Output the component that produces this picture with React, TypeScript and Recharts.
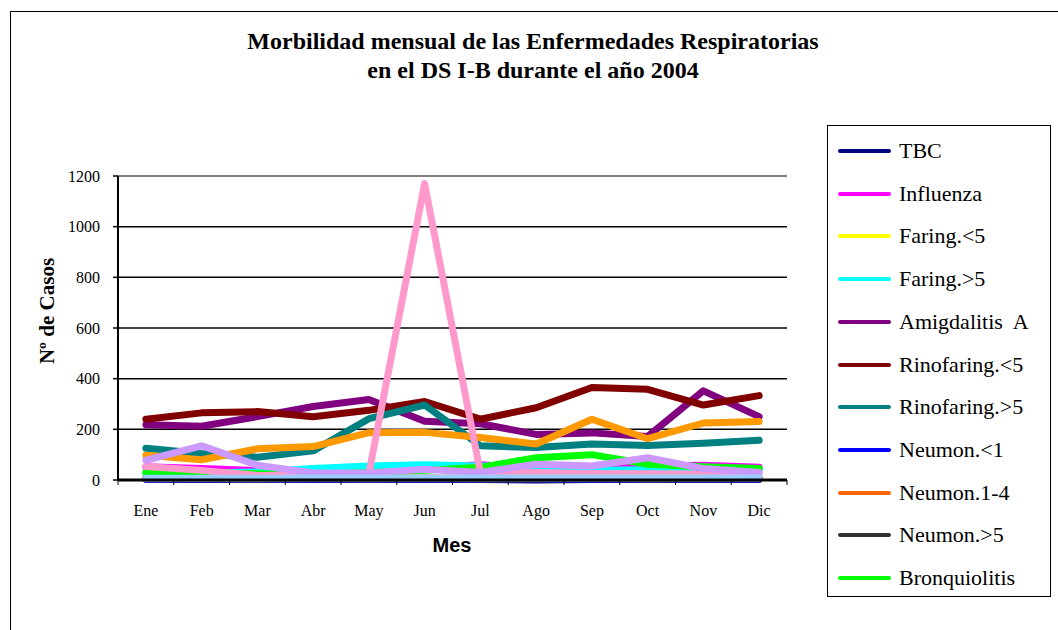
import React from "react";
import {
  LineChart,
  Line,
  XAxis,
  YAxis,
  CartesianGrid,
  ReferenceLine,
} from "recharts";

const months = ["Ene", "Feb", "Mar", "Abr", "May", "Jun", "Jul", "Ago", "Sep", "Oct", "Nov", "Dic"];
const yTicks = [0, 200, 400, 600, 800, 1000, 1200];

// series that show in the legend
const tbc = [4, 3, 3, 2, 3, 3, 2, 0, 2, 3, 2, 3];
const influenza = [52, 45, 37, 32, 40, 48, 60, 45, 42, 55, 58, 50];
const faringMenor5 = [6, 5, 5, 4, 5, 6, 5, 5, 6, 5, 5, 6];
const faringMayor5 = [25, 28, 32, 45, 55, 60, 55, 52, 38, 40, 35, 40];
const amigdalitis = [218, 212, 250, 290, 318, 232, 222, 180, 186, 172, 352, 250];
const rinofaringMenor5 = [240, 265, 270, 250, 275, 310, 240, 285, 365, 358, 296, 333];
const rinofaringMayor5 = [125, 105, 90, 115, 242, 296, 135, 128, 142, 136, 145, 157];
const neumonMenor1 = [3, 2, 3, 2, 3, 2, 3, 2, 2, 3, 2, 3];
const neumon1a4 = [8, 7, 6, 6, 7, 8, 7, 6, 7, 6, 6, 7];
const neumonMayor5 = [5, 4, 4, 5, 4, 5, 4, 4, 5, 4, 4, 5];
const bronquiolitis = [30, 29, 25, 22, 30, 38, 50, 88, 100, 62, 52, 45];
// series whose legend entries are cut off in the original
const serie12 = [98, 80, 123, 132, 187, 188, 168, 142, 240, 163, 225, 231];
const serie13 = [53, 38, 18, 20, 25, 1170, 28, 30, 26, 25, 24, 24];
const serie14 = [78, 135, 58, 28, 28, 42, 30, 62, 55, 88, 45, 30];
const serie15 = [7, 7, 7, 8, 8, 8, 8, 8, 8, 8, 8, 8];

const series = [
  { key: "tbc", name: "TBC", color: "#000080", values: tbc, legend: true },
  { key: "influenza", name: "Influenza", color: "#FF00FF", values: influenza, legend: true },
  { key: "faringMenor5", name: "Faring.<5", color: "#FFFF00", values: faringMenor5, legend: true },
  { key: "faringMayor5", name: "Faring.>5", color: "#00FFFF", values: faringMayor5, legend: true },
  { key: "amigdalitis", name: "Amigdalitis  A", color: "#800080", values: amigdalitis, legend: true },
  { key: "rinoMenor5", name: "Rinofaring.<5", color: "#800000", values: rinofaringMenor5, legend: true },
  { key: "rinoMayor5", name: "Rinofaring.>5", color: "#008080", values: rinofaringMayor5, legend: true },
  { key: "neumonMenor1", name: "Neumon.<1", color: "#0000FF", values: neumonMenor1, legend: true },
  { key: "neumon1a4", name: "Neumon.1-4", color: "#FF6600", values: neumon1a4, legend: true },
  { key: "neumonMayor5", name: "Neumon.>5", color: "#333333", values: neumonMayor5, legend: true },
  { key: "bronquiolitis", name: "Bronquiolitis", color: "#00FF00", values: bronquiolitis, legend: true },
  { key: "serie12", name: "Serie 12", color: "#FF9900", values: serie12, legend: false },
  { key: "serie13", name: "Serie 13", color: "#FF99CC", values: serie13, legend: false },
  { key: "serie14", name: "Serie 14", color: "#CC99FF", values: serie14, legend: false },
  { key: "serie15", name: "Serie 15", color: "#99CCFF", values: serie15, legend: false },
];

const data = months.map((mes, i) => {
  const row: Record<string, string | number> = { mes };
  series.forEach((s) => {
    row[s.key] = s.values[i];
  });
  return row;
});

const SERIF = "'Liberation Serif', 'Times New Roman', serif";
const SANS = "'Liberation Sans', Arial, sans-serif";

const W = 1058;
const H = 630;
const PLOT_LEFT = 118;
const PLOT_RIGHT = 787;
const PLOT_TOP = 176;
const PLOT_BOTTOM = 480;
const Y_AXIS_W = 60;
const X_AXIS_H = 60;
const HALF_BAND = (PLOT_RIGHT - PLOT_LEFT) / months.length / 2;

function MonthTick(props: any) {
  const { x, y, payload, index } = props;
  return (
    <g>
      <line x1={x - HALF_BAND} x2={x - HALF_BAND} y1={y} y2={y + 5} stroke="#000" strokeWidth={1} />
      {index === months.length - 1 && (
        <line x1={x + HALF_BAND} x2={x + HALF_BAND} y1={y} y2={y + 5} stroke="#000" strokeWidth={1} />
      )}
      <text x={x} y={y + 36} textAnchor="middle" fontFamily={SERIF} fontSize={16} fill="#000">
        {payload.value}
      </text>
    </g>
  );
}

export default function App() {
  return (
    <div
      style={{
        position: "absolute",
        left: 0,
        top: 0,
        width: W,
        height: H,
        overflow: "hidden",
        background: "#fff",
      }}
    >
      {/* outer chart frame, cut by the picture edge */}
      <div
        style={{
          position: "absolute",
          left: 10,
          top: 11,
          width: 1200,
          height: 800,
          border: "1.5px solid #000",
        }}
      />
      <div
        style={{
          position: "absolute",
          left: 0,
          top: 27,
          width: 1066,
          textAlign: "center",
          fontFamily: SERIF,
          fontWeight: "bold",
          fontSize: 24,
          lineHeight: "29px",
          color: "#000",
        }}
      >
        Morbilidad mensual de las Enfermedades Respiratorias
        <br />
        en el DS I-B durante el año 2004
      </div>

      <div style={{ position: "absolute", left: 0, top: 0 }}>
        <LineChart
          width={W}
          height={H}
          data={data}
          margin={{
            top: PLOT_TOP,
            left: PLOT_LEFT - Y_AXIS_W,
            right: W - PLOT_RIGHT,
            bottom: H - PLOT_BOTTOM - X_AXIS_H,
          }}
        >
          <CartesianGrid vertical={false} stroke="#000" strokeWidth={1.5} />
          <XAxis
            dataKey="mes"
            height={X_AXIS_H}
            interval={0}
            padding={{ left: HALF_BAND, right: HALF_BAND }}
            tickLine={false}
            tickSize={0}
            tickMargin={0}
            tick={<MonthTick />}
            axisLine={{ stroke: "#000", strokeWidth: 3 }}
          />
          <YAxis
            width={Y_AXIS_W}
            domain={[0, 1200]}
            ticks={yTicks}
            interval={0}
            tickSize={5}
            tickMargin={13}
            tickLine={{ stroke: "#000", strokeWidth: 1.5 }}
            axisLine={{ stroke: "#000", strokeWidth: 2 }}
            tick={{ fill: "#000", fontSize: 16, fontFamily: SERIF }}
          />
          <YAxis
            yAxisId="frame"
            orientation="right"
            width={0}
            tick={false}
            tickLine={false}
            axisLine={{ stroke: "#808080", strokeWidth: 2 }}
          />
          <ReferenceLine y={1200} stroke="#808080" strokeWidth={2} />
          {series.map((s) => (
            <Line
              key={s.key}
              type="linear"
              dataKey={s.key}
              name={s.name}
              stroke={s.color}
              strokeWidth={7}
              strokeLinecap="round"
              strokeLinejoin="round"
              dot={false}
              activeDot={false}
              isAnimationActive={false}
            />
          ))}
        </LineChart>
      </div>

      {/* axis titles */}
      <div
        style={{
          position: "absolute",
          left: 47,
          top: 311,
          transform: "translate(-50%, -50%) rotate(-90deg)",
          whiteSpace: "nowrap",
          fontFamily: SERIF,
          fontWeight: "bold",
          fontSize: 21,
          color: "#000",
        }}
      >
        Nº de Casos
      </div>
      <div
        style={{
          position: "absolute",
          left: 452,
          top: 545,
          transform: "translate(-50%, -50%)",
          fontFamily: SANS,
          fontWeight: "bold",
          fontSize: 20,
          color: "#000",
        }}
      >
        Mes
      </div>

      {/* legend, only the entries that fit in the box */}
      <div
        style={{
          position: "absolute",
          left: 827,
          top: 125,
          width: 222,
          height: 470,
          border: "1.5px solid #000",
          background: "#fff",
        }}
      >
        {series
          .filter((s) => s.legend)
          .map((s, i) => (
            <div
              key={s.key}
              style={{
                position: "absolute",
                left: 10,
                top: 25 + i * 42.7 - 14,
                height: 28,
                display: "flex",
                alignItems: "center",
                whiteSpace: "pre",
              }}
            >
              <div style={{ width: 53, height: 4, background: s.color, borderRadius: 2 }} />
              <span
                style={{
                  marginLeft: 8,
                  fontFamily: SERIF,
                  fontSize: 22,
                  color: "#000",
                }}
              >
                {s.name}
              </span>
            </div>
          ))}
      </div>
    </div>
  );
}
